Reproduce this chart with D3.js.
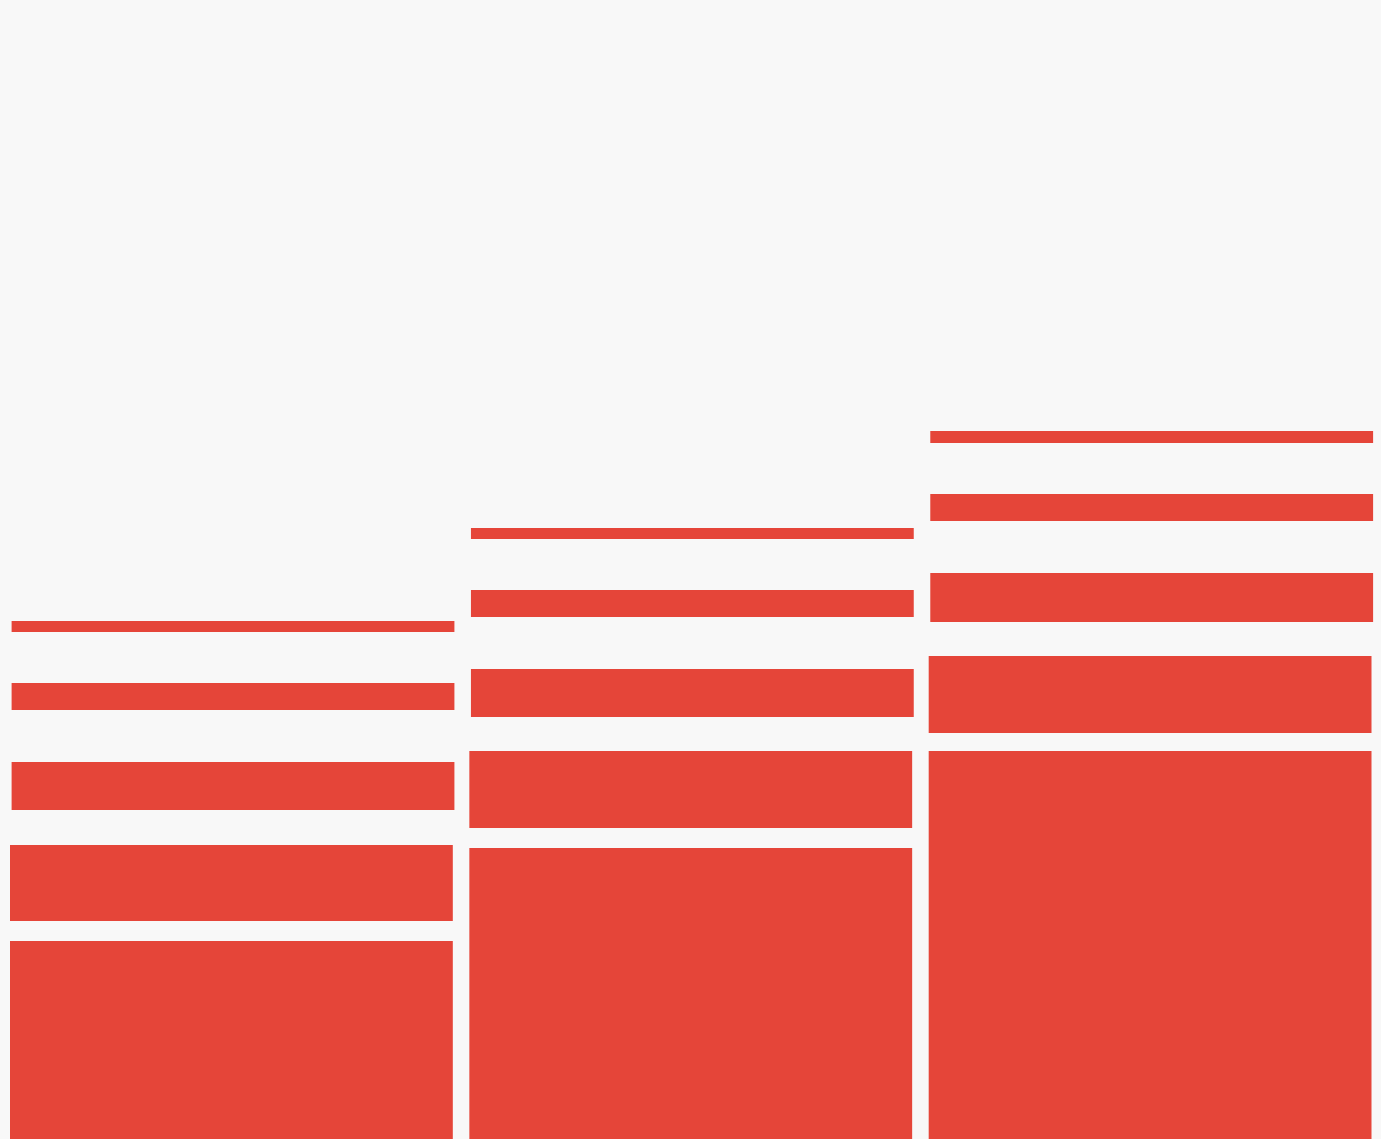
<html>
<head>
<script src="https://cdn.jsdelivr.net/npm/d3@7"></script>
<style>
  html, body { margin: 0; padding: 0; background: #f8f8f8; overflow: hidden; }
</style>
</head>
<body>
<svg></svg>
<script>
// columns and stacked segments, bottom to top (gN = empty gap between bars)
var columns = ["A", "B", "C"];
var base = [199, 292, 389];
var gap1 = [20, 20, 18];
var seg2 = [76, 77, 77];
var gap2 = [35, 34, 34];
var seg3 = [48, 48, 49];
var gap3 = [52, 52, 52];
var seg4 = [27, 27, 27];
var gap4 = [51, 51, 51];
var seg5 = [11, 11, 12];

var keys = ["base", "gap1", "seg2", "gap2", "seg3", "gap3", "seg4", "gap4", "seg5"];
var series_vals = {base: base, gap1: gap1, seg2: seg2, gap2: gap2, seg3: seg3,
                   gap3: gap3, seg4: seg4, gap4: gap4, seg5: seg5};

var W = 1381, H = 1139;

var rows = columns.map(function(c, i) {
  var r = {col: c};
  keys.forEach(function(k) { r[k] = series_vals[k][i]; });
  return r;
});

var stack = d3.stack().keys(keys)(rows);

var x = d3.scaleBand().domain(columns).range([10, 1371.5]).paddingInner(0.036);
var y = d3.scaleLinear().domain([0, 1140]).range([1140, 0]);

var svg = d3.select("svg").attr("width", W).attr("height", H);

// upper bars sit a touch to the right of the lower ones
var shift = {seg3: 1.6, seg4: 1.6, seg5: 1.6};

svg.selectAll("g.s")
  .data(stack.filter(function(s) { return s.key.indexOf("gap") != 0; }))
  .enter().append("g").classed("s", 1)
  .selectAll("rect")
  .data(function(s) { return s.map(function(d) { d.key = s.key; return d; }); })
  .enter().append("rect")
  .attr("x", function(d) { return x(d.data.col) + (shift[d.key] || 0); })
  .attr("y", function(d) { return y(d[1]); })
  .attr("width", x.bandwidth())
  .attr("height", function(d) { return y(d[0]) - y(d[1]); })
  .attr("fill", "#e54539");
</script>
</body>
</html>
